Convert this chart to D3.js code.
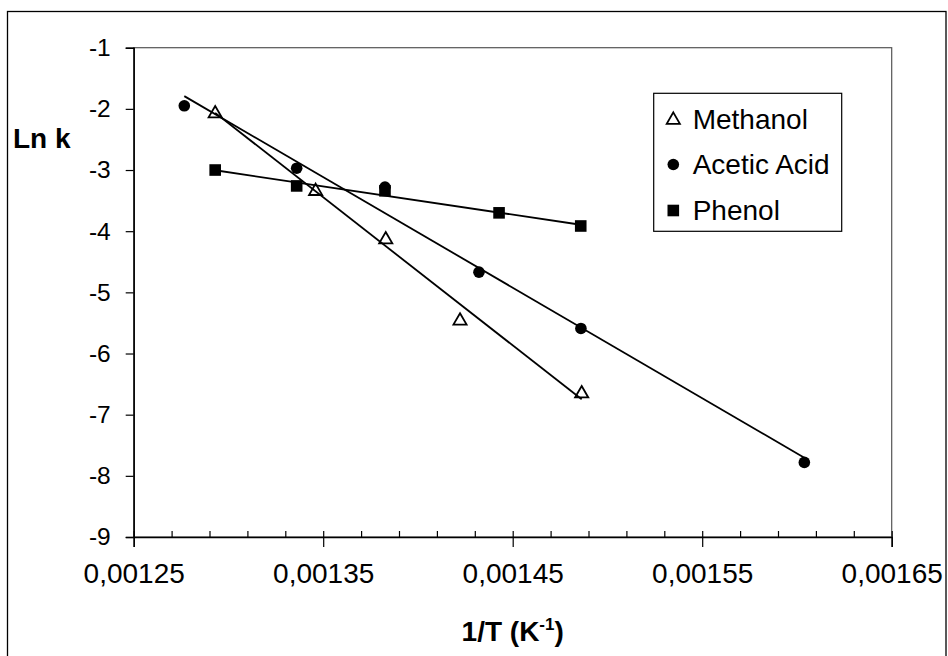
<!DOCTYPE html>
<html>
<head>
<meta charset="utf-8">
<script src="https://cdn.jsdelivr.net/npm/d3@7"></script>
<style>
  html, body { margin: 0; padding: 0; background: #fff; }
  svg { display: block; }
  text { font-family: "Liberation Sans", Arial, sans-serif; fill: #000; }
</style>
</head>
<body>
<svg id="chart" width="948" height="656"></svg>
<script>
// ---- data ----
const methanolX = [0.001293, 0.001346, 0.001383, 0.0014222, 0.0014864];
const methanolY = [-2.06, -3.33, -4.12, -5.45, -6.64];

const aceticX = [0.0012767, 0.001336, 0.0013826, 0.0014322, 0.001486, 0.0016039];
const aceticY = [-1.95, -2.97, -3.28, -4.67, -5.59, -7.78];

const phenolX = [0.001293, 0.001336, 0.0013826, 0.0014428, 0.0014859];
const phenolY = [-3.0, -3.26, -3.34, -3.70, -3.915];

const seriesNames = ["Methanol", "Acetic Acid", "Phenol"];

const xMajorTicks = [0.00125, 0.00135, 0.00145, 0.00155, 0.00165];
const xTickLabels = ["0,00125", "0,00135", "0,00145", "0,00155", "0,00165"];
const xMinorTicks = [0.00127, 0.00129, 0.00131, 0.00133, 0.00137, 0.00139, 0.00141, 0.00143,
                     0.00147, 0.00149, 0.00151, 0.00153, 0.00157, 0.00159, 0.00161, 0.00163];
const yTicks = [-1, -2, -3, -4, -5, -6, -7, -8, -9];
const yTickLabels = ["-1", "-2", "-3", "-4", "-5", "-6", "-7", "-8", "-9"];

// ---- layout ----
const svg = d3.select("#chart");
const L = 133.7, R = 891.7, T = 47.7, B = 537;
const x = d3.scaleLinear().domain([0.00125, 0.00165]).range([L, R]);
const y = d3.scaleLinear().domain([-1, -9]).range([T, B]);

// outer border
svg.append("rect").attr("x", 7.5).attr("y", 11.5).attr("width", 938.5).attr("height", 650)
  .attr("fill", "#fff").attr("stroke", "#000").attr("stroke-width", 1.3);

// plot area border (top/right)
svg.append("rect").attr("x", L).attr("y", T).attr("width", R - L).attr("height", B - T)
  .attr("fill", "none").attr("stroke", "#555").attr("stroke-width", 1.2);

// y axis
const yAxis = d3.axisLeft(y).tickValues(yTicks).tickSize(8).tickPadding(0)
  .tickFormat((d, i) => yTickLabels[i]);
const gy = svg.append("g").attr("transform", `translate(${L},0)`).call(yAxis);
gy.select(".domain").attr("stroke", "#000").attr("stroke-width", 1.5);
gy.selectAll(".tick line").attr("stroke", "#000").attr("stroke-width", 1.2);
gy.selectAll(".tick text").attr("font-size", 24.5).attr("x", -23)
  .attr("font-family", "Liberation Sans, Arial, sans-serif").attr("fill", "#000");

// x axis minor ticks (inside)
const xMinor = d3.axisBottom(x).tickValues(xMinorTicks).tickSize(-6).tickFormat("");
const gxm = svg.append("g").attr("transform", `translate(0,${B})`).call(xMinor);
gxm.select(".domain").remove();
gxm.selectAll(".tick line").attr("stroke", "#000").attr("stroke-width", 1.2);

// x axis major ticks (cross)
const xAxis = d3.axisBottom(x).tickValues(xMajorTicks).tickSize(10).tickPadding(0)
  .tickFormat((d, i) => xTickLabels[i]);
const gx = svg.append("g").attr("transform", `translate(0,${B})`).call(xAxis);
gx.select(".domain").attr("stroke", "#000").attr("stroke-width", 1.5);
gx.selectAll(".tick line").attr("y1", -6).attr("stroke", "#000").attr("stroke-width", 1.2);
gx.selectAll(".tick text").attr("font-size", 28).attr("y", 46).attr("dy", null)
  .attr("font-family", "Liberation Sans, Arial, sans-serif").attr("fill", "#000");

// axis titles
svg.append("text").attr("x", 13).attr("y", 148).attr("font-size", 28).attr("font-weight", "bold").text("Ln k");
const xt = svg.append("text").attr("x", (L + R) / 2).attr("y", 641).attr("text-anchor", "middle")
  .attr("font-size", 28).attr("font-weight", "bold");
xt.append("tspan").text("1/T (K");
xt.append("tspan").attr("font-size", 17).attr("dy", -11).text("-1");
xt.append("tspan").attr("dy", 11).text(")");

// ---- series ----
function fit(xs, ys) {
  const mx = d3.mean(xs), my = d3.mean(ys);
  let sxy = 0, sxx = 0;
  xs.forEach((v, i) => { sxy += (v - mx) * (ys[i] - my); sxx += (v - mx) * (v - mx); });
  const b = sxy / sxx, a = my - b * mx;
  const x0 = d3.min(xs), x1 = d3.max(xs);
  return [[x0, a + b * x0], [x1, a + b * x1]];
}

const triSym = d3.symbol().type(d3.symbolTriangle).size(75);
const line = d3.line().x(d => x(d[0])).y(d => y(d[1]));

const series = [
  { name: seriesNames[0], xs: methanolX, ys: methanolY, kind: "tri" },
  { name: seriesNames[1], xs: aceticX, ys: aceticY, kind: "circle" },
  { name: seriesNames[2], xs: phenolX, ys: phenolY, kind: "square" }
];

function drawMarker(g, kind, cx, cy) {
  if (kind === "tri") {
    g.append("path").attr("d", triSym()).attr("transform", `translate(${cx},${cy + 1})`)
      .attr("fill", "#fff").attr("stroke", "#000").attr("stroke-width", 1.8);
  } else if (kind === "circle") {
    g.append("circle").attr("cx", cx).attr("cy", cy).attr("r", 5.8).attr("fill", "#000");
  } else {
    g.append("rect").attr("x", cx - 5.8).attr("y", cy - 5.8).attr("width", 11.6).attr("height", 11.6).attr("fill", "#000");
  }
}

const gm = svg.append("g");
series.forEach(s => {
  s.xs.forEach((v, i) => drawMarker(gm, s.kind, x(v), y(s.ys[i])));
});
series.forEach(s => {
  svg.append("path").datum(fit(s.xs, s.ys)).attr("d", line)
    .attr("fill", "none").attr("stroke", "#000").attr("stroke-width", 1.8);
});

// ---- legend ----
const lg = svg.append("g");
lg.append("rect").attr("x", 653.7).attr("y", 93.3).attr("width", 188).attr("height", 138)
  .attr("fill", "#fff").attr("stroke", "#000").attr("stroke-width", 1.2);
const legY = [119, 164.5, 210.5];
series.forEach((s, i) => {
  drawMarker(lg, s.kind, 673.3, legY[i]);
  lg.append("text").attr("x", 692.7).attr("y", legY[i] + 9.8).attr("font-size", 28).text(s.name);
});
</script>
</body>
</html>
